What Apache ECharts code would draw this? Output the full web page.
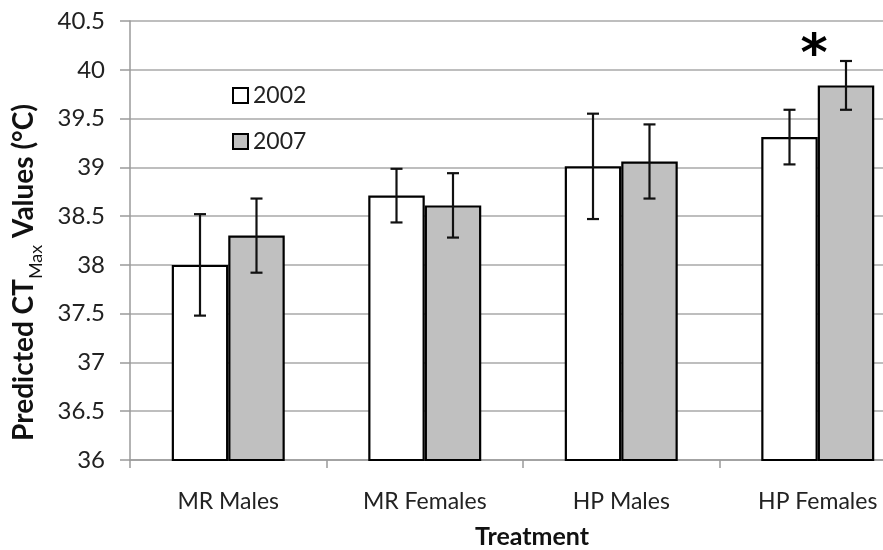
<!DOCTYPE html>
<html>
<head>
<meta charset="utf-8">
<script src="https://cdn.jsdelivr.net/npm/echarts@6/dist/echarts.min.js"></script>
<style>
html,body{margin:0;padding:0;background:#fff;}
#chart{width:883px;height:550px;}
</style>
</head>
<body>
<div id="chart"></div>
<script>
// Treatment groups on the x axis
var categories = ['MR Males', 'MR Females', 'HP Males', 'HP Females'];
// Mean predicted CTmax per year (°C)
var values2002 = [38.00, 38.71, 39.01, 39.31];
var values2007 = [38.30, 38.61, 39.06, 39.84];
// Half-length of the error bars (°C)
var err2002 = [0.52, 0.275, 0.54, 0.28];
var err2007 = [0.38, 0.33, 0.38, 0.25];
// Y axis range and step
var yMin = 36, yMax = 40.5, yStep = 0.5;

var FONT = 'Lato, "Open Sans", sans-serif';
var CAT_GAP = 0.425;               // share of a category left empty
var BAR_SHARE = (1 - CAT_GAP) / 2; // width of a single bar, as a share of the category

function errorData(means, errs) {
  return means.map(function (m, i) { return [i, m - errs[i], m + errs[i]]; });
}

function errorSeries(name, means, errs, side) {
  return {
    type: 'custom',
    name: name + ' error',
    silent: true,
    z: 5,
    encode: { x: 0, y: [1, 2] },
    data: errorData(means, errs),
    renderItem: function (params, api) {
      var cat = api.value(0);
      var lo = api.coord([cat, api.value(1)]);
      var hi = api.coord([cat, api.value(2)]);
      var bw = api.size([1, 0])[0] * BAR_SHARE;
      var x = lo[0] + side * bw / 2;
      var cap = 6;
      var style = { stroke: '#111', lineWidth: 2.2 };
      return {
        type: 'group',
        children: [
          { type: 'line', shape: { x1: x, y1: lo[1], x2: x, y2: hi[1] }, style: style },
          { type: 'line', shape: { x1: x - cap, y1: hi[1], x2: x + cap, y2: hi[1] }, style: style },
          { type: 'line', shape: { x1: x - cap, y1: lo[1], x2: x + cap, y2: lo[1] }, style: style }
        ]
      };
    }
  };
}

var chart = echarts.init(document.getElementById('chart'), null, { renderer: 'canvas' });

chart.setOption({
  backgroundColor: '#ffffff',
  animation: false,
  grid: { left: 130, top: 21, width: 786, height: 439, containLabel: false, outerBoundsMode: 'none' },
  legend: {
    orient: 'vertical',
    left: 232,
    top: 84,
    padding: 0,
    icon: 'rect',
    itemWidth: 15,
    itemHeight: 15,
    itemGap: 23,
    data: ['2002', '2007'],
    textStyle: { fontFamily: FONT, fontSize: 23, color: '#222' },
    itemStyle: { borderColor: '#000', borderWidth: 2 }
  },
  xAxis: {
    type: 'category',
    data: categories,
    name: 'Treatment',
    nameLocation: 'middle',
    nameGap: 64,
    nameTextStyle: { fontFamily: FONT, fontSize: 25, fontWeight: 'bold', color: '#111', padding: [0, 0, 0, 18] },
    axisLine: { lineStyle: { color: '#9a9a9a', width: 1.5 } },
    axisTick: { show: true, length: 8, lineStyle: { color: '#9a9a9a', width: 1.5 } },
    axisLabel: { fontFamily: FONT, fontSize: 23, color: '#222', margin: 30 },
    splitLine: { show: false }
  },
  yAxis: {
    type: 'value',
    min: yMin,
    max: yMax,
    interval: yStep,
    name: '{a|Predicted CT}{b|Max}{a| Values (°C)}',
    nameLocation: 'middle',
    nameRotate: 90,
    nameGap: 92,
    nameTextStyle: {
      padding: [0, 64, 0, 0],
      rich: {
        a: { fontFamily: FONT, fontSize: 28, fontWeight: 'bold', color: '#111', verticalAlign: 'bottom' },
        b: { fontFamily: FONT, fontSize: 18, color: '#111', verticalAlign: 'bottom', padding: [0, 0, -7, 0] }
      }
    },
    axisLine: { show: true, lineStyle: { color: '#9a9a9a', width: 1.5 } },
    axisTick: { show: true, length: 10, lineStyle: { color: '#9a9a9a', width: 1.5 } },
    axisLabel: {
      fontFamily: FONT, fontSize: 24, color: '#222', margin: 25,
      formatter: function (v) { return String(Math.round(v * 10) / 10); }
    },
    splitLine: { show: true, lineStyle: { color: '#a8a8a8', width: 1.5 } }
  },
  series: [
    {
      name: '2002',
      type: 'bar',
      data: values2002,
      barGap: '0%',
      barCategoryGap: (CAT_GAP * 100) + '%',
      itemStyle: { color: '#ffffff', borderColor: '#000', borderWidth: 2.2 },
      z: 2
    },
    {
      name: '2007',
      type: 'bar',
      data: values2007,
      barGap: '0%',
      barCategoryGap: (CAT_GAP * 100) + '%',
      itemStyle: { color: '#c0c0c0', borderColor: '#000', borderWidth: 2.2 },
      z: 2,
      markPoint: {
        symbol: 'circle',
        symbolSize: 1,
        itemStyle: { color: 'rgba(0,0,0,0)' },
        data: [{
          coord: [3, values2007[3] + err2007[3]],
          label: {
            show: true,
            formatter: '*',
            fontFamily: 'DejaVu Sans',
            fontWeight: 'bold',
            fontSize: 52,
            color: '#000',
            offset: [-32, -5]
          }
        }]
      }
    },
    errorSeries('2002', values2002, err2002, -1),
    errorSeries('2007', values2007, err2007, 1)
  ]
});
</script>
</body>
</html>
